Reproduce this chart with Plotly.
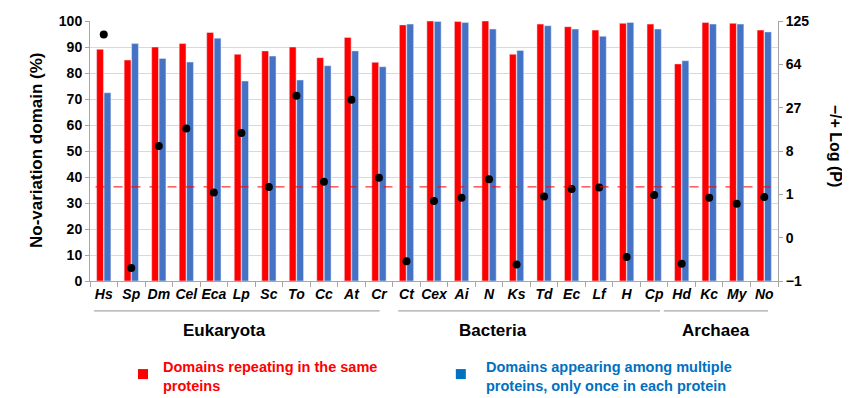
import numpy as np
import plotly.graph_objects as go

species = ["Hs", "Sp", "Dm", "Cel", "Eca", "Lp", "Sc", "To", "Cc", "At", "Cr",
           "Ct", "Cex", "Ai", "N", "Ks", "Td", "Ec", "Lf", "H", "Cp",
           "Hd", "Kc", "My", "No"]
repeat_same = [89.1, 85.0, 90.0, 91.3, 95.6, 87.2, 88.5, 90.0, 85.9, 93.7, 84.1,
               98.5, 100.0, 99.8, 100.0, 87.2, 98.8, 97.8, 96.5, 99.1, 98.8,
               83.5, 99.4, 99.1, 96.5]
once_each = [72.4, 91.3, 85.6, 84.2, 93.4, 76.9, 86.5, 77.3, 82.8, 88.5, 82.4,
             98.8, 99.8, 99.4, 96.9, 88.7, 98.2, 96.9, 94.1, 99.4, 96.9,
             84.7, 98.8, 98.8, 95.8]
signed_log_p = [103.0, -0.34, 9.5, 16.0, 1.14, 14.1, 1.6, 35.2, 2.14, 32.2, 2.64,
                -0.16, 0.6, 0.78, 2.44, -0.24, 0.86, 1.41, 1.56, -0.09, 0.96,
                -0.22, 0.78, 0.48, 0.83]
threshold_left = 36.2
right_tick_values = [-1, 0, 1, 8, 27, 64, 125]
right_tick_labels = ["\u22121", "0", "1", "8", "27", "64", "125"]
groups = ["Eukaryota", "Bacteria", "Archaea"]

FONT = "Arial, Liberation Sans, sans-serif"
RED = "#FF0000"
BLUE = "#4472C4"

fig = go.Figure()
fig.add_trace(go.Bar(x=species, y=repeat_same, marker_color=RED, name="repeat",
                     showlegend=False))
fig.add_trace(go.Bar(x=species, y=once_each, marker_color=BLUE, name="once",
                     showlegend=False))
fig.add_trace(go.Scatter(x=species, y=np.cbrt(np.array(signed_log_p)), yaxis="y2",
                         mode="markers", marker=dict(color="black", size=8),
                         showlegend=False))

fig.update_layout(
    width=850, height=398,
    margin=dict(l=82, r=80, t=13, b=125),
    paper_bgcolor="white", plot_bgcolor="white",
    font=dict(family=FONT, color="#000000"),
    barmode="group", bargap=0.46, bargroupgap=0.08,
    xaxis=dict(type="category", range=[-0.5, len(species) - 0.5], automargin=False,
               tickson="boundaries", ticks="outside", ticklen=5, tickangle=0,
               tickcolor="#A6A6A6", showline=True, linecolor="#A6A6A6",
               tickfont=dict(size=14, family=FONT, color="#000000", style="italic",
                             weight="bold"),
               showgrid=False),
    yaxis=dict(range=[0, 100], dtick=10, showline=True, linecolor="#A6A6A6",
               automargin=False,
               ticks="outside", ticklen=4, tickcolor="#A6A6A6",
               gridcolor="#D9D9D9", gridwidth=1,
               tickfont=dict(size=14, family=FONT, color="#000000", weight="bold")),
    yaxis2=dict(overlaying="y", side="right", range=[-1, 5], automargin=False,
                tickvals=list(np.cbrt(np.array(right_tick_values, dtype=float))),
                ticktext=right_tick_labels, showgrid=False, zeroline=False,
                showline=True, linecolor="#A6A6A6", ticks="outside", ticklen=4,
                tickcolor="#A6A6A6",
                tickfont=dict(size=14, family=FONT, color="#000000", weight="bold")),
)

# threshold dashed line
fig.add_shape(type="line", xref="paper", yref="y", x0=0.008, x1=1, y0=threshold_left,
              y1=threshold_left, line=dict(color=RED, width=1, dash="dash"))

# left axis title
fig.add_annotation(text="<b>No-variation domain (%)</b>", xref="paper", yref="paper",
                   x=-0.078, y=0.505, xanchor="center", yanchor="middle",
                   textangle=-90, showarrow=False,
                   font=dict(size=17, family=FONT, color="#000000"))
# right axis title (reads top to bottom)
fig.add_annotation(text="<b>\u2212/+ Log (P)</b>", xref="paper", yref="paper",
                   x=1.083, y=0.52, xanchor="center", yanchor="middle",
                   textangle=90, showarrow=False,
                   font=dict(size=16, family=FONT, color="#000000"))

# group lines and labels
group_lines = [(0.006, 0.421), (0.448, 0.8285), (0.834, 0.9855)]
group_label_x = [0.196, 0.586, 0.91]
for name, (a, b), cx in zip(groups, group_lines, group_label_x):
    fig.add_shape(type="line", xref="paper", yref="paper", x0=a, x1=b,
                  y0=-0.115, y1=-0.115, line=dict(color="#A6A6A6", width=1.3))
    fig.add_annotation(text="<b>%s</b>" % name, xref="paper", yref="paper",
                       x=cx, y=-0.192, xanchor="center", yanchor="middle",
                       showarrow=False,
                       font=dict(size=17, family=FONT, color="#000000"))

# legend
legend_items = [
    (0.077, 0.1032, RED, "Domains repeating in the same<br>proteins"),
    (0.539, 0.572, "#0070C0", "Domains appearing among multiple<br>proteins, only once in each protein"),
]
for sx, tx, col, txt in legend_items:
    fig.add_shape(type="rect", xref="paper", yref="paper", xsizemode="pixel",
                  ysizemode="pixel", xanchor=sx, yanchor=-0.358,
                  x0=-5, x1=5, y0=-5, y1=5, fillcolor=col, line=dict(width=0))
    fig.add_annotation(text="<b>%s</b>" % txt, xref="paper", yref="paper",
                       x=tx, y=-0.367, xanchor="left", yanchor="middle", align="left",
                       showarrow=False,
                       font=dict(size=14.5, family=FONT, color=col))

fig.write_html("out.html")
